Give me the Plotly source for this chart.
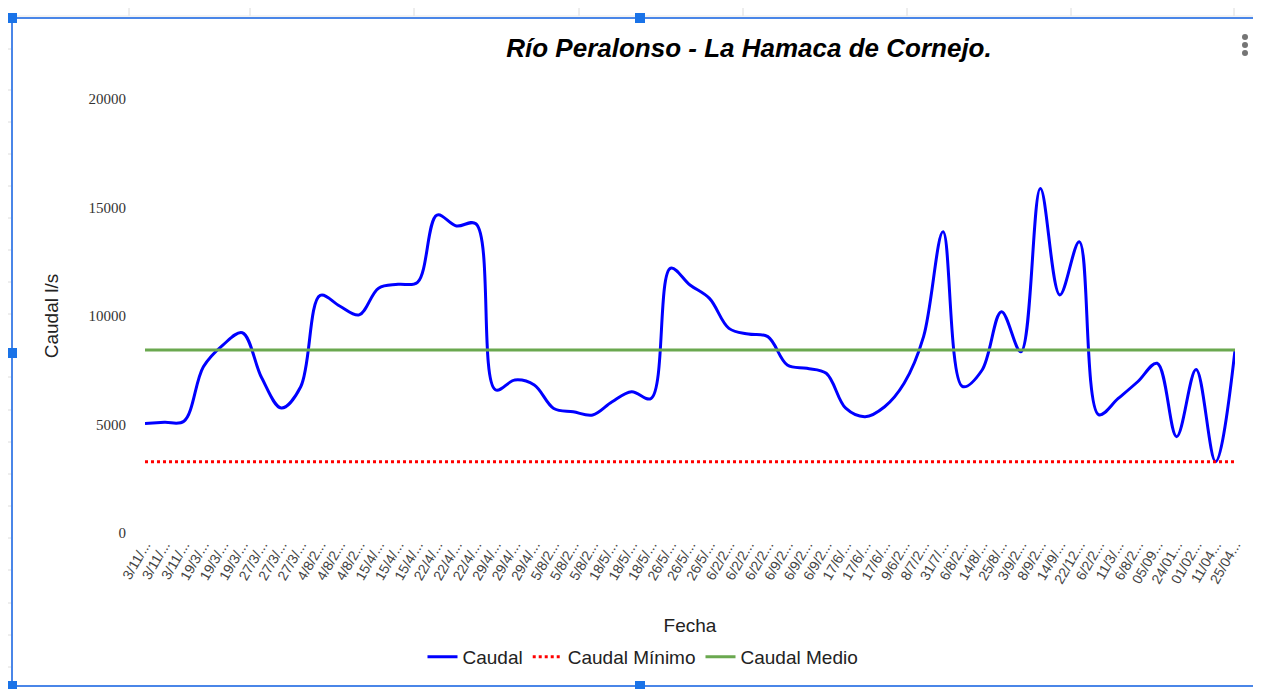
import plotly.graph_objects as go

fechas = ["3/11/...", "3/11/...", "3/11/...", "19/3/...", "19/3/...", "19/3/...", "27/3/...", "27/3/...", "27/3/...",
          "4/8/2...", "4/8/2...", "4/8/2...", "15/4/...", "15/4/...", "15/4/...", "22/4/...", "22/4/...", "22/4/...",
          "29/4/...", "29/4/...", "29/4/...", "5/8/2...", "5/8/2...", "5/8/2...", "18/5/...", "18/5/...", "18/5/...",
          "26/5/...", "26/5/...", "26/5/...", "6/2/2...", "6/2/2...", "6/2/2...", "6/9/2...", "6/9/2...", "6/9/2...",
          "17/6/...", "17/6/...", "17/6/...", "9/6/2...", "8/7/2...", "31/7/...", "6/8/2...", "14/8/...", "25/8/...",
          "3/9/2...", "8/9/2...", "14/9/...", "22/12...", "6/2/2...", "11/3/...", "6/8/2...", "05/09...", "24/01...",
          "01/02...", "11/04...", "25/04..."]

caudal = [5050, 5100, 5150, 7660, 8660, 9230, 7140, 5760, 6740, 10950,
          10460, 10050, 11280, 11460, 11550, 14650, 14150, 14250, 6600, 7050,
          6820, 5740, 5590, 5440, 6050, 6510, 6200, 12200, 11430, 10810,
          9430, 9170, 9050, 7740, 7590, 7360, 5750, 5360, 5820, 6900,
          9050, 13880, 6750, 7500, 10200, 8350, 15880, 10970, 13420, 5450,
          6200, 6970, 7820, 4440, 7540, 3290, 8430]

caudal_minimo = 3280
caudal_medio = 8430

y_ticks = [0, 5000, 10000, 15000, 20000]
y_ticktext = ["0", "5000", "10000", "15000", "20000"]

x_idx = list(range(len(fechas)))

fig = go.Figure()
fig.add_trace(go.Scatter(
    x=x_idx, y=caudal, mode="lines", name="Caudal",
    line=dict(color="#0000ff", width=3, shape="spline", smoothing=1.0)))
fig.add_trace(go.Scatter(
    x=x_idx, y=[caudal_minimo] * len(x_idx), mode="lines", name="Caudal Mínimo",
    line=dict(color="#ff0000", width=3, dash="dot")))
fig.add_trace(go.Scatter(
    x=x_idx, y=[caudal_medio] * len(x_idx), mode="lines", name="Caudal Medio",
    line=dict(color="#6aa84f", width=3)))

# page has an 8px body margin; figure is sized so the plot area lands where it should
OFF = 8
W, H = 1261 - OFF, 689 - OFF
L, T = 145 - OFF, 99 - OFF
pw, ph = 1090, 434
R = W - L - pw
B = H - T - ph


def px(x):
    return (x - OFF - L) / pw


def py(y):
    return (T + ph - (y - OFF)) / ph


grey = "#dcdcdc"
shapes = []
# faint spreadsheet grid around the chart object
for gx in [129, 250, 414, 579, 743, 907, 1071, 1234]:
    shapes.append(dict(type="line", xref="paper", yref="paper", x0=px(gx), x1=px(gx),
                       y0=py(8), y1=py(16), line=dict(color=grey, width=1)))
for gy in [49, 90, 122, 154, 186, 218, 250, 282, 314, 377, 410, 442, 474, 506, 538, 570, 603, 635, 667]:
    shapes.append(dict(type="line", xref="paper", yref="paper", x0=px(8), x1=px(11),
                       y0=py(gy), y1=py(gy), line=dict(color=grey, width=1)))
shapes.append(dict(type="line", xref="paper", yref="paper", x0=px(8), x1=px(1261),
                   y0=py(16), y1=py(16), line=dict(color="#e8e8e8", width=1)))

blue = "#4a86e8"
shapes += [
    dict(type="line", xref="paper", yref="paper", x0=px(12), x1=px(1261), y0=py(18), y1=py(18),
         line=dict(color=blue, width=2)),
    dict(type="line", xref="paper", yref="paper", x0=px(12), x1=px(1261), y0=py(686), y1=py(686),
         line=dict(color=blue, width=2)),
    dict(type="line", xref="paper", yref="paper", x0=px(12), x1=px(12), y0=py(18), y1=py(686),
         line=dict(color=blue, width=2)),
]
for hx, hy in [(12, 18), (640, 18), (12, 353), (640, 686), (12, 686)]:
    shapes.append(dict(type="rect", xref="paper", yref="paper",
                       x0=px(hx - 5), x1=px(hx + 5), y0=py(hy - 5), y1=py(hy + 5),
                       fillcolor="#1a73e8", line=dict(width=0)))
for dy in [37, 45, 53]:
    shapes.append(dict(type="circle", xref="paper", yref="paper",
                       x0=px(1242), x1=px(1248), y0=py(dy - 3), y1=py(dy + 3),
                       fillcolor="#757575", line=dict(width=0)))

fig.update_layout(
    width=W, height=H,
    margin=dict(l=L, r=R, t=T, b=B, autoexpand=False),
    paper_bgcolor="white", plot_bgcolor="white",
    font=dict(family="Liberation Sans, Arial, sans-serif", color="#222222"),
    title=dict(text="<b><i>Río Peralonso - La Hamaca de Cornejo.</i></b>",
               x=(749 - OFF) / W, xref="container", xanchor="center",
               y=1 - (48 - OFF) / H, yref="container", yanchor="middle",
               font=dict(size=26, color="#000000")),
    xaxis=dict(range=[0, len(fechas) - 1], tickmode="array", tickvals=x_idx, ticktext=fechas,
               tickangle=-60, tickfont=dict(size=14, color="#444444"), showgrid=False,
               zeroline=False, showline=False, ticks="", automargin=False,
               title=dict(text="Fecha", font=dict(size=19, color="#222222"), standoff=33)),
    yaxis=dict(range=[0, 20000], tickmode="array", tickvals=y_ticks, ticktext=y_ticktext,
               tickfont=dict(size=15, color="#333333", family="Liberation Serif, serif"),
               showgrid=False, zeroline=False, showline=False, ticks="", ticklabelstandoff=18,
               automargin=False,
               title=dict(text="Caudal l/s", font=dict(size=19, color="#222222"), standoff=24)),
    legend=dict(orientation="h", x=(643 - OFF) / W, xanchor="center", xref="container",
                y=1 - (657 - OFF) / H, yanchor="middle", yref="container",
                font=dict(size=19, color="#222222"), itemwidth=30),
    shapes=shapes,
    showlegend=True,
)

fig.write_html("out.html")
